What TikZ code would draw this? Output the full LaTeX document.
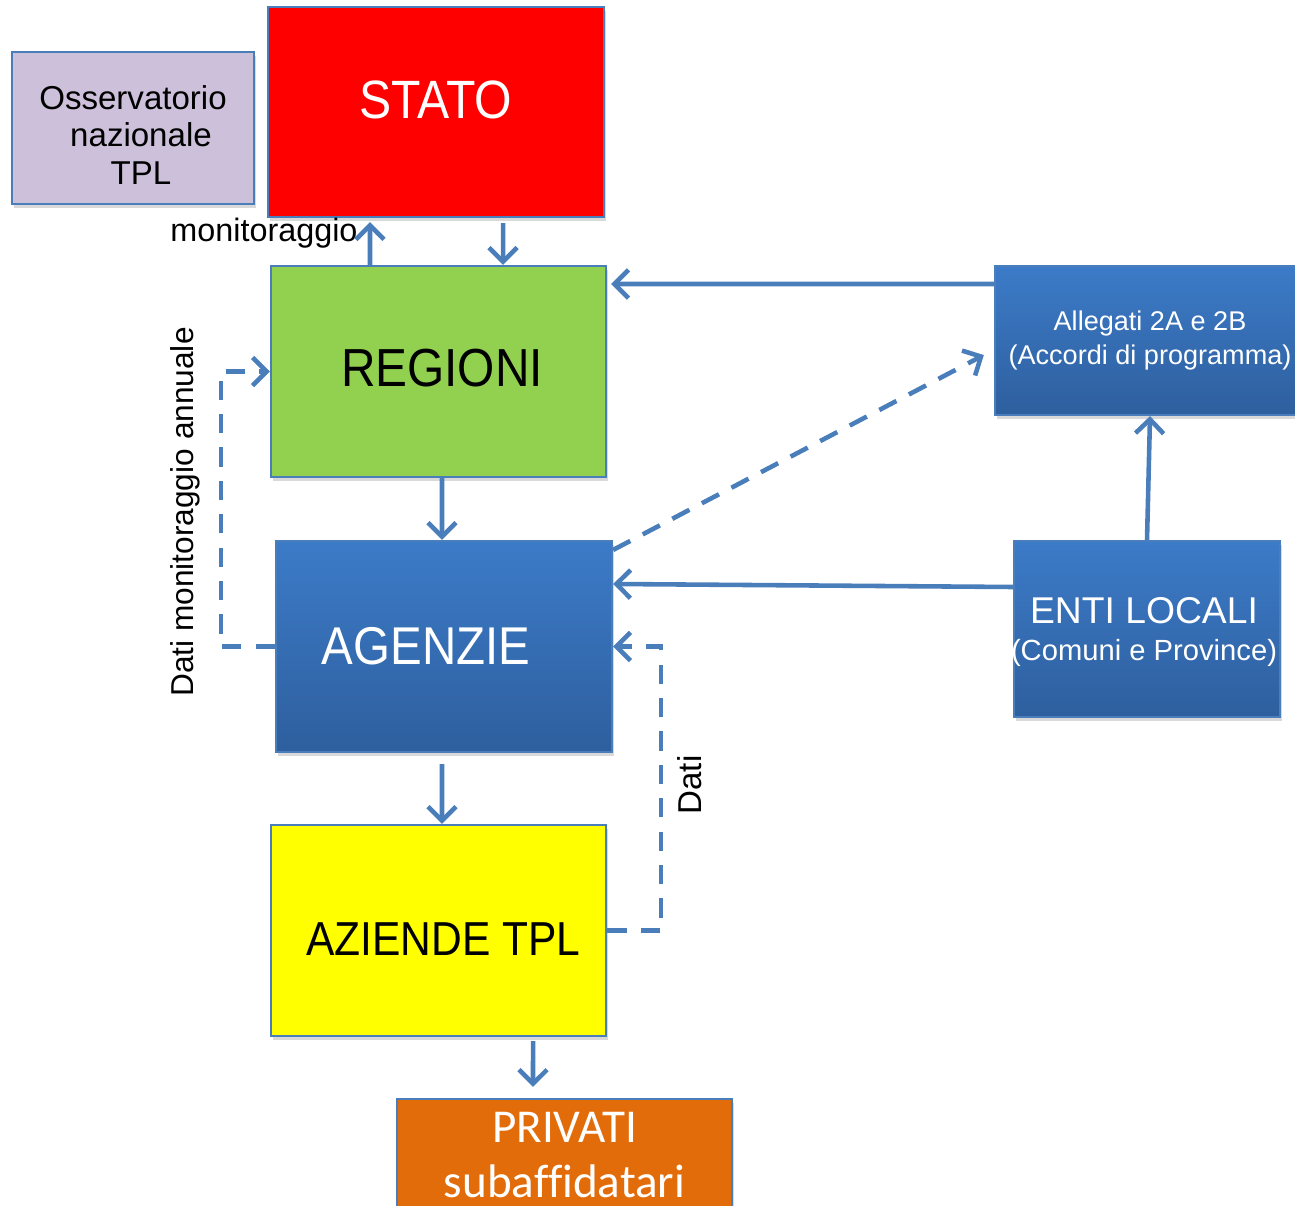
\documentclass[tikz,border=0pt]{standalone}
\usepackage{fontspec}
\setmainfont{Liberation Sans}
\newfontfamily\carlito[Ligatures=NoCommon]{Carlito}
\usepackage{xcolor}
\usetikzlibrary{arrows.meta,shadows}

\definecolor{linkblue}{RGB}{74,126,187}
\definecolor{ossfill}{RGB}{204,192,218}
\definecolor{statofill}{RGB}{255,0,0}
\definecolor{regfill}{RGB}{146,208,80}
\definecolor{azfill}{RGB}{255,255,0}
\definecolor{boxtop}{RGB}{60,123,200}
\definecolor{boxbottom}{RGB}{46,95,158}
\definecolor{privfill}{RGB}{227,108,10}

\newcommand{\tallword}[1]{\scalebox{1}[1.12]{#1}}

\begin{document}
\begin{tikzpicture}[x=0.01cm,y=-0.01cm,
        box/.style={rectangle,draw=linkblue,line width=0.6pt,inner sep=0pt,
            drop shadow={opacity=0.3,shadow xshift=0.6pt,shadow yshift=-1.2pt}},
        bluebox/.style={box,top color=boxtop,bottom color=boxbottom},
        arr/.style={draw=linkblue,line width=1.3pt,-{Straight Barb[length=4pt,width=8pt]}},
        dasharr/.style={arr,dash pattern=on 5.5pt off 4pt}]
                \clip (0,0) rectangle (1295,1205);

                \node (oss) at (133,128) [box,fill=ossfill,minimum width=2.42cm,minimum height=1.52cm,
                    label={[yshift=-0.07cm,align=center,font=\fontsize{9.4}{10.8}\selectfont]center:Osservatorio\\\hspace*{0.16cm}nazionale\\\hspace*{0.16cm}TPL}] {};
                \node (stato) at (436,112) [box,fill=statofill,minimum width=3.36cm,minimum height=2.10cm,
                    label={[yshift=0.12cm,text=white,font=\fontsize{13.7}{16}\selectfont]center:\tallword{STATO}}] {};
                \node (regioni) at (438.5,371.5) [box,fill=regfill,minimum width=3.35cm,minimum height=2.11cm,
                    label={[xshift=0.035cm,yshift=0.035cm,font=\fontsize{13.6}{16}\selectfont]center:\tallword{REGIONI}}] {};
                \node (agenzie) at (444,646.5) [bluebox,minimum width=3.36cm,minimum height=2.11cm,
                    label={[xshift=-0.18cm,text=white,font=\fontsize{13.5}{16}\selectfont]center:\tallword{AGENZIE}}] {};
                \node (aziende) at (438.5,930.5) [box,fill=azfill,minimum width=3.35cm,minimum height=2.11cm,
                    label={[xshift=0.05cm,yshift=-0.085cm,font=\fontsize{12.1}{15}\selectfont]center:\tallword{AZIENDE TPL}}] {};
                \node (privati) at (564.5,1155) [box,fill=privfill,minimum width=3.35cm,minimum height=1.12cm,
                    label={[align=center,text=white,font=\carlito\fontsize{13.4}{15.6}\selectfont]center:PRIVATI\\subaffidatari}] {};
                \node (allegati) at (1150,340.5) [bluebox,minimum width=3.10cm,minimum height=1.49cm,
                    label={[align=center,text=white,font=\fontsize{7.7}{9.7}\selectfont]center:Allegati 2A e 2B\\(Accordi di programma)}] {};
                \node (enti) at (1147,629) [bluebox,minimum width=2.66cm,minimum height=1.76cm,
                    label={[xshift=-0.03cm,yshift=-0.03cm,align=center,text=white]center:{\fontsize{10.6}{12}\selectfont ENTI LOCALI}\\[-1.6pt]{\fontsize{8.3}{10}\selectfont (Comuni e Province)}}] {};

                \node (mon) at (264,233) [font=\fontsize{9.2}{10}\selectfont] {monitoraggio};
                \node (datiann) at (185,512) [rotate=90,font=\fontsize{9}{10}\selectfont] {Dati monitoraggio annuale};
                \node (dati) at (690,785) [rotate=90,font=\fontsize{9.4}{10}\selectfont] {Dati};

                \draw[arr] ([xshift=-0.685cm]regioni.north) -- ([xshift=-0.66cm,yshift=-0.04cm]stato.south);
                \draw[arr] ([xshift=0.67cm,yshift=-0.05cm]stato.south) -- ([xshift=0.645cm]regioni.north);
                \draw[arr] ([xshift=0.035cm]regioni.south) -- ([xshift=-0.02cm]agenzie.north);
                \draw[arr] ([xshift=-0.02cm,yshift=-0.11cm]agenzie.south) -- ([xshift=0.035cm]aziende.north);
                \draw[arr] ([xshift=0.945cm,yshift=-0.04cm]aziende.south) -- ([xshift=-0.315cm,yshift=0.11cm]privati.north);
                \draw[arr] ([yshift=0.565cm]allegati.west) -- ([xshift=0.04cm,yshift=0.875cm]regioni.east);
                \draw[arr] ([yshift=0.42cm]enti.west) -- ([yshift=0.625cm]agenzie.east);
                \draw[arr] (enti.north) -- (allegati.south);
                \draw[dasharr] ([yshift=-0.1cm]agenzie.north east) -- ([xshift=-0.1cm,yshift=-0.145cm]allegati.west);
                \draw[dasharr] (agenzie.west) -- ++(-54,0) |- (regioni.west);
                \draw[dasharr] (aziende.east) -- ++(54,0) |- (agenzie.east);
            \end{tikzpicture}
\end{document}
